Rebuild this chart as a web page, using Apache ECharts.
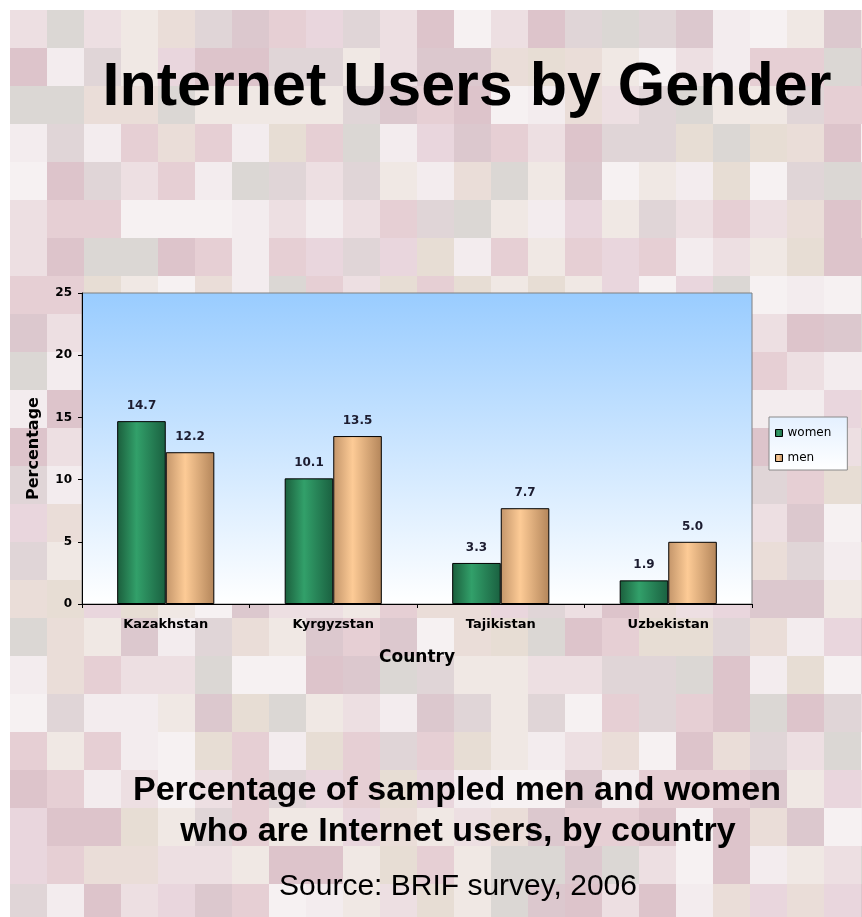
<!DOCTYPE html>
<html><head><meta charset="utf-8">
<script src="https://cdn.jsdelivr.net/npm/echarts@6/dist/echarts.min.js"></script>
<style>
html,body{margin:0;padding:0;background:#fff;}
#bg{position:absolute;left:10px;top:10px;}
#chart{position:absolute;left:0;top:0;width:862px;height:917px;}
</style></head>
<body>
<canvas id="bg" width="852" height="907"></canvas>
<div id="chart"></div>
<script>
const categories = ['Kazakhstan', 'Kyrgyzstan', 'Tajikistan', 'Uzbekistan'];
const women = [14.7, 10.1, 3.3, 1.9];
const men = [12.2, 13.5, 7.7, 5.0];
const seriesNames = ['women', 'men'];
const yTicks = [0, 5, 10, 15, 20, 25];

// decorative mosaic background (deterministic)
(function(){
  const c = document.getElementById('bg').getContext('2d');
  const pal = ['#eddfe2','#e6cfd4','#ddc4cb','#f3ecee','#eaddd8','#e0d5d7','#f0e8e4','#dcc8ce','#e9d6dd','#f6f1f2','#e7ddd4','#dbd7d4'];
  const tw = 37, th = 38;
  for (let i = 0; i * tw < 852; i++) {
    for (let j = 0; j * th < 907; j++) {
      const h = Math.abs(Math.sin(i * 12.9898 + j * 78.233) * 43758.5453) % 1;
      c.fillStyle = pal[Math.floor(h * pal.length)];
      c.fillRect(i * tw, j * th, tw, th);
    }
  }
})();

const chart = echarts.init(document.getElementById('chart'), null, {renderer: 'canvas'});
const ff = '"Liberation Sans", Arial, sans-serif';
const fd = '"DejaVu Sans", Verdana, sans-serif';
const grad = (a, b, c2) => new echarts.graphic.LinearGradient(0, 0, 1, 0, [
  {offset: 0, color: a}, {offset: 0.4, color: b}, {offset: 1, color: c2}]);
const lbl = {show: true, position: 'top', distance: 9, fontFamily: fd, fontSize: 12, fontWeight: 'bold', color: '#1c1c30',
  formatter: p => p.value.toFixed(1)};

chart.setOption({
  backgroundColor: 'transparent',
  animation: false,
  title: [
    {text: 'Internet Users by Gender', left: 462, top: 53, textAlign: 'center',
     textStyle: {fontFamily: ff, fontSize: 61, fontWeight: 'bold', color: '#000'}},
    {text: 'Percentage of sampled men and women', left: 452, top: 769, textAlign: 'center',
     textStyle: {fontFamily: ff, fontSize: 34, fontWeight: 'bold', color: '#000'}},
    {text: 'who are Internet users, by country', left: 453, top: 810, textAlign: 'center',
     textStyle: {fontFamily: ff, fontSize: 34, fontWeight: 'bold', color: '#000'}},
    {text: 'Source: BRIF survey, 2006', left: 453, top: 867, textAlign: 'center',
     textStyle: {fontFamily: ff, fontSize: 30, fontWeight: 'normal', color: '#000'}}
  ],
  legend: {
    orient: 'vertical', left: 769, top: 417,
    data: seriesNames,
    itemWidth: 7, itemHeight: 7, itemGap: 13,
    padding: [10, 16, 6, 6],
    borderColor: '#8a8a8a', borderWidth: 1,
    backgroundColor: new echarts.graphic.LinearGradient(0, 0, 0, 1, [
      {offset: 0, color: '#e4f0ff'}, {offset: 1, color: '#ffffff'}]),
    textStyle: {fontFamily: fd, fontSize: 12, color: '#000'},
    icon: 'rect',
    itemStyle: {borderColor: '#000', borderWidth: 1}
  },
  grid: {
    left: 82, top: 293, width: 670, height: 311,
    show: true, borderColor: '#808080', borderWidth: 1,
    backgroundColor: new echarts.graphic.LinearGradient(0, 0, 0, 1, [
      {offset: 0, color: '#99ccff'}, {offset: 1, color: '#ffffff'}])
  },
  xAxis: {
    type: 'category', data: categories,
    name: 'Country', nameLocation: 'middle', nameGap: 45,
    nameTextStyle: {fontFamily: fd, fontSize: 17, fontWeight: 'bold', color: '#000'},
    axisLine: {lineStyle: {color: '#000', width: 1}},
    axisTick: {show: true, alignWithLabel: false, length: 4, lineStyle: {color: '#000'}},
    axisLabel: {fontFamily: fd, fontSize: 13, fontWeight: 'bold', color: '#000', margin: 14}
  },
  yAxis: {
    type: 'value', min: 0, max: 25, interval: 5,
    name: 'Percentage', nameLocation: 'middle', nameGap: 40, nameRotate: 90,
    nameTextStyle: {fontFamily: fd, fontSize: 16, fontWeight: 'bold', color: '#000'},
    axisLine: {show: true, lineStyle: {color: '#000', width: 1}},
    axisTick: {show: true, length: 4, lineStyle: {color: '#000'}},
    splitLine: {show: false},
    axisLabel: {fontFamily: fd, fontSize: 12, fontWeight: 'bold', color: '#000', margin: 10,
      formatter: v => yTicks.includes(v) ? String(v) : ''}
  },
  series: [
    {name: seriesNames[0], type: 'bar', data: women, barGap: '0%', barCategoryGap: '42%',
     itemStyle: {color: grad('#1b5e3c', '#32a06a', '#1a6040'), borderColor: '#000', borderWidth: 1},
     label: lbl},
    {name: seriesNames[1], type: 'bar', data: men,
     itemStyle: {color: grad('#c3956a', '#fdcb96', '#b3855a'), borderColor: '#000', borderWidth: 1},
     label: lbl}
  ]
});
</script>
</body></html>
